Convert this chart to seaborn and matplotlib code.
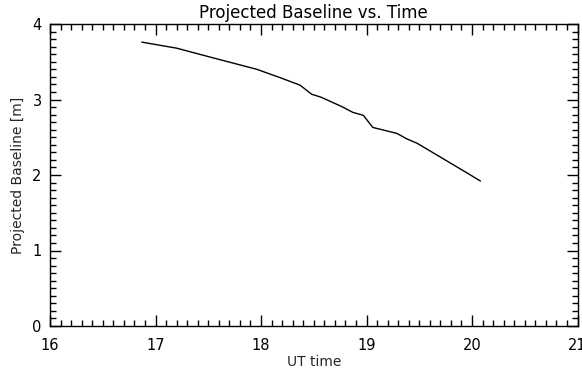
import matplotlib
matplotlib.use("Agg")
import matplotlib.pyplot as plt
import seaborn as sns
import pandas as pd
from matplotlib.ticker import MultipleLocator

ut_time = [16.87, 17.20, 17.55, 17.96, 18.18, 18.37, 18.48, 18.57, 18.76, 18.87,
           18.97, 19.06, 19.29, 19.38, 19.48, 19.95, 20.08]
baseline = [3.76, 3.68, 3.55, 3.40, 3.29, 3.19, 3.07, 3.03, 2.91, 2.83,
            2.79, 2.63, 2.55, 2.48, 2.42, 2.03, 1.92]

df = pd.DataFrame({"UT time": ut_time, "Projected Baseline [m]": baseline})

sns.set_style("ticks")
plt.rcParams['font.family'] = ['DejaVu Sans']

fig = plt.figure(figsize=(5.82, 3.69), dpi=100)
ax = fig.add_axes([50/582, 43/369, (577.5-50)/582, (326-24)/369])

sns.lineplot(data=df, x="UT time", y="Projected Baseline [m]", ax=ax,
             color="black", linewidth=1.0, sort=False)

ax.set_xlim(16, 21)
ax.set_ylim(0, 4)
ax.xaxis.set_major_locator(MultipleLocator(1))
ax.xaxis.set_minor_locator(MultipleLocator(0.1))
ax.yaxis.set_major_locator(MultipleLocator(1))
ax.yaxis.set_minor_locator(MultipleLocator(0.1))
ax.tick_params(which="both", direction="in", top=True, right=True,
               labelsize=10.5, width=1, colors="black")
ax.tick_params(which="major", length=8)
ax.tick_params(which="minor", length=4)
ax.tick_params(axis="x", which="major", pad=9)
ax.tick_params(axis="y", which="major", pad=6)
for s in ax.spines.values():
    s.set_visible(True)
    s.set_linewidth(1.0)
    s.set_color("black")

ax.set_title("Projected Baseline vs. Time", fontsize=12, pad=4, color="black")
ax.set_xlabel("UT time", fontsize=10, labelpad=1)
ax.set_ylabel("Projected Baseline [m]", fontsize=10, labelpad=5)

fig.savefig("out.png", dpi=100)
